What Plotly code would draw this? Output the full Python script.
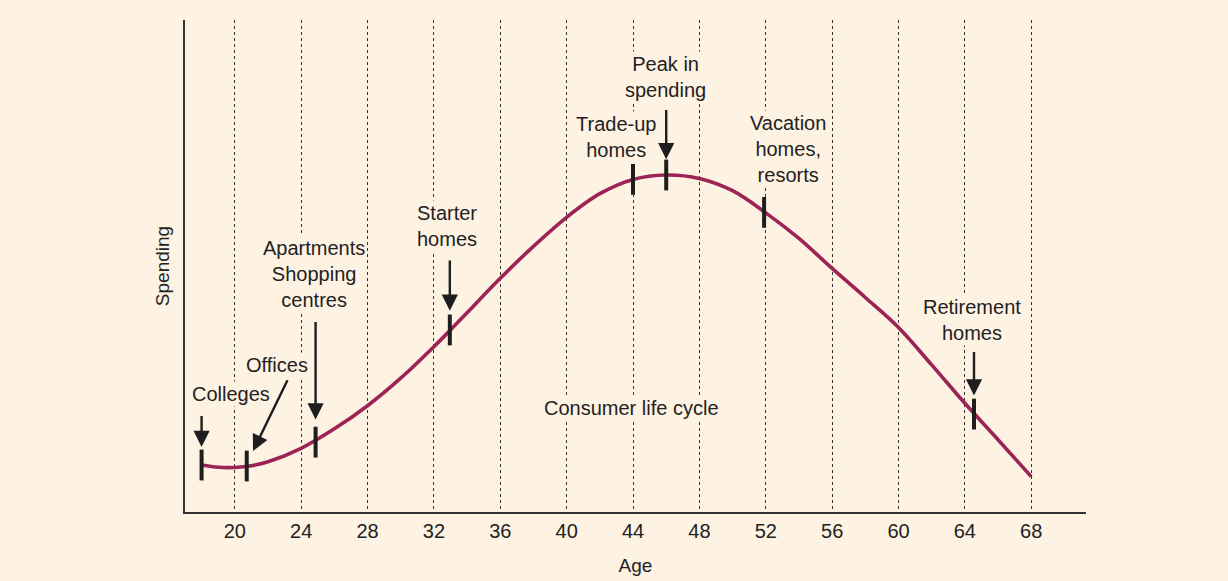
import plotly.graph_objects as go

# Consumer life-cycle curve (spending in arbitrary units, 0 = axis, 100 = top of plot)
ages = [18, 19, 20, 21, 22, 24, 26, 28, 30, 32, 33, 34, 36, 38, 40, 42, 44, 46, 48,
        50, 52, 54, 56, 58, 60, 62, 64, 66, 68]
spending = [9.55, 9.1, 9.05, 9.4, 10.2, 12.95, 16.9, 21.6, 27.2, 33.6, 37.0, 40.5, 47.5, 54.0,
            59.9, 64.7, 67.6, 68.5, 67.8, 65.3, 60.8, 55.6, 49.5, 43.6, 37.5, 29.9, 22.1,
            14.7, 7.2]

# Marker bars on the curve
marker_ages = [18, 20.72, 24.87, 32.96, 44, 46, 51.9, 64.55]
marker_spend = [9.55, 9.35, 14.2, 37.0, 67.6, 68.5, 60.9, 19.9]

# Labels: text, x (age), y (spending)
label_text = ["Colleges", "Offices", "Apartments<br>Shopping<br>centres", "Starter<br>homes",
              "Trade-up<br>homes", "Peak in<br>spending", "Vacation<br>homes,<br>resorts",
              "Retirement<br>homes", "Consumer life cycle"]
label_x = [19.8, 22.55, 24.8, 32.76, 42.96, 45.98, 53.35, 64.40, 43.93]
label_y = [23.9, 29.96, 48.3, 58.2, 76.2, 88.4, 73.8, 39.0, 21.05]

# Arrows: head (x, y) and tail (x, y)
arrow_head_x = [18, 21.1, 24.87, 32.96, 46, 64.55]
arrow_head_y = [13.2, 12.4, 18.8, 40.9, 71.7, 23.7]
arrow_tail_x = [18, 23.22, 24.87, 32.96, 46, 64.55]
arrow_tail_y = [19.8, 27.1, 38.9, 51.4, 82.0, 32.8]

x_ticks = list(range(20, 69, 4))

BG = "#FEF2E3"
CURVE = "#9C2455"
INK = "#1E1E1E"
FONT = "Liberation Sans, Arial, sans-serif"

fig = go.Figure()
fig.add_trace(go.Scatter(x=ages, y=spending, mode="lines",
                         line=dict(color=CURVE, width=3.6, shape="spline", smoothing=1.0),
                         hoverinfo="skip", showlegend=False))
fig.add_trace(go.Scatter(x=marker_ages, y=marker_spend, mode="markers",
                         marker=dict(symbol="line-ns", size=22, line=dict(color=INK, width=4)),
                         hoverinfo="skip", showlegend=False))

for t, x, y in zip(label_text, label_x, label_y):
    fig.add_annotation(x=x, y=y, xref="x", yref="y", text=t, showarrow=False,
                       font=dict(family=FONT, size=20, color="#222222"),
                       bgcolor=BG, borderpad=1, align="center")

for hx, hy, tx, ty in zip(arrow_head_x, arrow_head_y, arrow_tail_x, arrow_tail_y):
    fig.add_annotation(x=hx, y=hy, ax=tx, ay=ty, xref="x", yref="y", axref="x", ayref="y",
                       text="", showarrow=True, arrowhead=2, arrowsize=1.35, arrowwidth=2.4,
                       arrowcolor=INK)

fig.update_layout(
    width=1228, height=581,
    paper_bgcolor=BG, plot_bgcolor=BG,
    margin=dict(l=185, r=142, t=20, b=69),
    font=dict(family=FONT, size=20, color="#222222"),
)
fig.update_xaxes(range=[17, 71.3], tickvals=x_ticks, ticktext=[str(v) for v in x_ticks],
                 showgrid=True, gridcolor="#333333", griddash="dot", gridwidth=1,
                 showline=True, linecolor="#333333", linewidth=1.5, ticks="",
                 zeroline=False, tickfont=dict(size=20), automargin=False,
                 title=dict(text="Age", font=dict(size=19), standoff=18))
fig.update_yaxes(range=[0, 100], showgrid=False, showticklabels=False, ticks="",
                 showline=True, linecolor="#333333", linewidth=1.5, zeroline=False,
                 automargin=False,
                 title=dict(text="Spending", font=dict(size=19), standoff=9))

fig.write_html("out.html", config={"displayModeBar": False},
               post_script="document.body.style.margin='0';document.body.style.background='#FEF2E3';")
